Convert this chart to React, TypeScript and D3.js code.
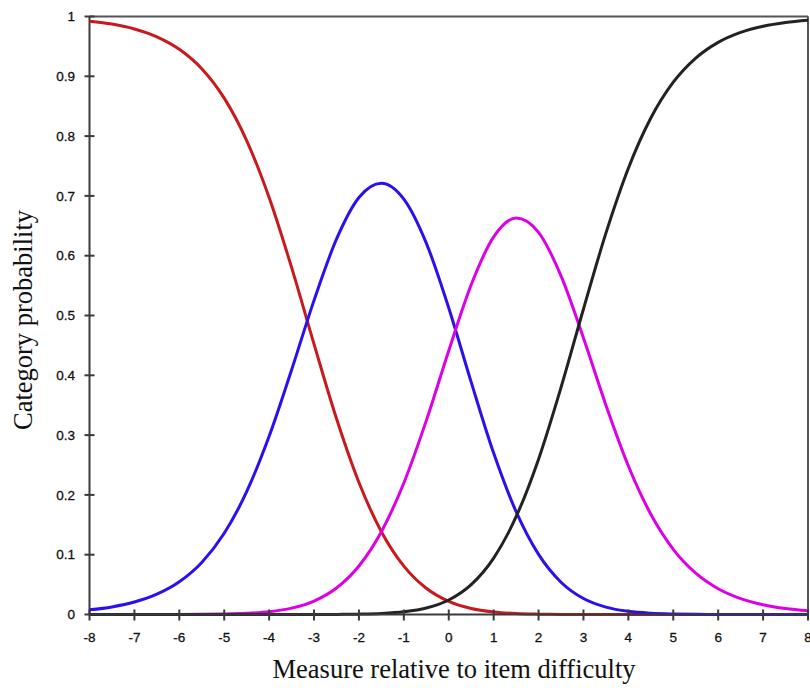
import React from "react";
import * as d3 from "d3";

const measures = [-8,-7.5,-7,-6.5,-6,-5.5,-5,-4.5,-4,-3.5,-3,-2.5,-2,-1.5,-1,-0.5,0,0.5,1,1.5,2,2.5,3,3.5,4,4.5,5,5.5,6,6.5,7,7.5,8];
const cat0 = [0.9922,0.9873,0.9792,0.9661,0.9452,0.9127,0.8635,0.7926,0.6973,0.5804,0.4521,0.3277,0.2208,0.1385,0.0809,0.0439,0.0220,0.0101,0.0043,0.0016,0.0006,0.0002,0.0001,0,0,0,0,0,0,0,0,0,0];
const cat1 = [0.0078,0.0127,0.0208,0.0339,0.0547,0.0870,0.1358,0.2054,0.2980,0.4090,0.5253,0.6277,0.6974,0.7213,0.6947,0.6211,0.5126,0.3885,0.2699,0.1719,0.1005,0.0540,0.0267,0.0123,0.0053,0.0022,0.0009,0.0003,0.0001,0,0,0,0];
const cat2 = [0,0,0,0,0.0001,0.0003,0.0008,0.0020,0.0047,0.0106,0.0225,0.0443,0.0812,0.1385,0.2200,0.3242,0.4412,0.5514,0.6314,0.6630,0.6391,0.5662,0.4623,0.3500,0.2484,0.1676,0.1090,0.0691,0.0431,0.0266,0.0163,0.0099,0.0061];
const cat3 = [0,0,0,0,0,0,0,0,0,0,0.0001,0.0002,0.0006,0.0017,0.0045,0.0108,0.0243,0.0500,0.0944,0.1635,0.2598,0.3796,0.5109,0.6377,0.7463,0.8302,0.8901,0.9305,0.9568,0.9734,0.9837,0.9901,0.9939];

const xTicks = [-8,-7,-6,-5,-4,-3,-2,-1,0,1,2,3,4,5,6,7,8];
const yTicks = [0,0.1,0.2,0.3,0.4,0.5,0.6,0.7,0.8,0.9,1];
const seriesColors = ["#c81a1e", "#2a10ee", "#dc00e6", "#222222"];

export default function App() {
  const W = 810, H = 692;
  const x = d3.scaleLinear().domain([-8, 8]).range([89.5, 808]);
  const y = d3.scaleLinear().domain([0, 1]).range([614.5, 16.5]);
  const line = d3.line<number>()
    .x((_, i) => x(measures[i]))
    .y((d) => y(d))
    .curve(d3.curveMonotoneX);
  const series = [cat0, cat1, cat2, cat3];
  const axisColor = "#3a3a3a";
  const tickFont = "Liberation Sans, Arial, sans-serif";
  return (
    <svg width={W} height={H} style={{ position: "absolute", left: 0, top: 0, background: "#fff" }}>
      {/* frame */}
      <line x1={x(-8)} x2={x(8)} y1={y(1)} y2={y(1)} stroke="#555" strokeWidth={2} />
      <line x1={x(8)} x2={x(8)} y1={y(1)} y2={y(0)} stroke="#555" strokeWidth={2} />
      {/* y axis */}
      <line x1={x(-8)} x2={x(-8)} y1={y(1)} y2={y(0)} stroke={axisColor} strokeWidth={2} />
      {yTicks.map((t) => (
        <g key={"y" + t}>
          <line x1={x(-8) - 5} x2={x(-8) + 5} y1={y(t)} y2={y(t)} stroke={axisColor} strokeWidth={2} />
          <text x={75} y={y(t)} dy="0.35em" textAnchor="end" fontFamily={tickFont} fontSize={13.5} fill="#111" stroke="#111" strokeWidth={0.3}>
            {String(t)}
          </text>
        </g>
      ))}
      {/* curves */}
      {series.map((s, i) => (
        <path key={"s" + i} d={line(s) || ""} fill="none" stroke={seriesColors[i]} strokeWidth={3} />
      ))}
      {/* x axis */}
      <line x1={x(-8)} x2={x(8)} y1={y(0)} y2={y(0)} stroke={axisColor} strokeWidth={2} />
      {xTicks.map((t) => (
        <g key={"x" + t}>
          <line x1={x(t)} x2={x(t)} y1={y(0) - 5} y2={y(0) + 6} stroke={axisColor} strokeWidth={2} />
          <text x={x(t)} y={642} textAnchor="middle" fontFamily={tickFont} fontSize={13.5} fill="#111" stroke="#111" strokeWidth={0.3}>
            {String(t)}
          </text>
        </g>
      ))}
      <text x={454} y={678} textAnchor="middle" fontFamily="Liberation Serif, Times New Roman, serif" fontSize={26.5} fill="#111">
        Measure relative to item difficulty
      </text>
      <text transform={`translate(32,320) rotate(-90)`} textAnchor="middle" fontFamily="Liberation Serif, Times New Roman, serif" fontSize={26.5} fill="#111">
        Category probability
      </text>
    </svg>
  );
}
